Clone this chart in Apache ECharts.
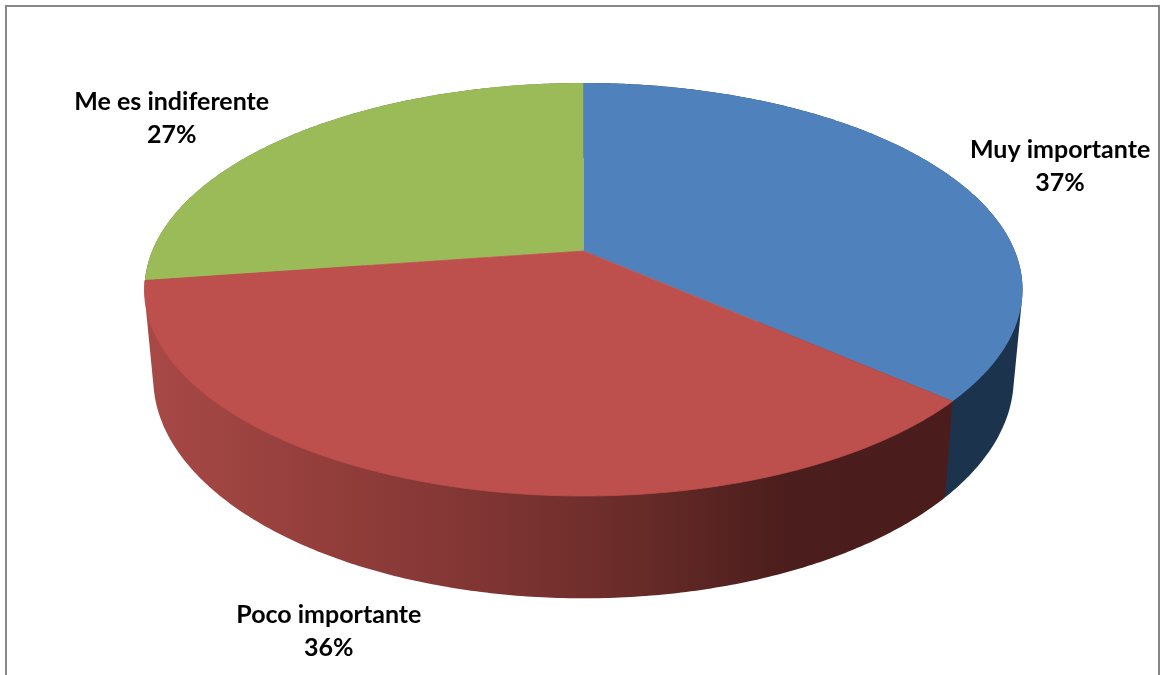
<!DOCTYPE html>
<html>
<head>
<meta charset="utf-8">
<style>html,body{margin:0;padding:0;background:#fff}#c{width:1161px;height:675px}</style>
<script src="https://cdn.jsdelivr.net/npm/echarts@6/dist/echarts.min.js"></script>
</head>
<body>
<div id="c"></div>
<script>
// data
const categories = ['Muy importante', 'Poco importante', 'Me es indiferente'];
const shares = [36.5, 36.2, 27.3];

// look
const topColors = ['#4F81BD', '#BD4F4C', '#9BBB59'];
const topEdgeWidths = [0, 0.8, 0];
const wallStops = [
  [[0, '#1D344E'], [1, '#1C334D']],
  [[0, '#A84946'], [0.2, '#953F3C'], [0.4, '#823634'], [0.6, '#6A2C29'], [0.72, '#562321'], [0.8, '#4B1D1C'], [1, '#4A1C1C']],
  [[0, '#5D7035'], [1, '#5D7035']]
];
const labelOffsets = [[111.5, -8.5], [-105, 148], [-121, -16.5]];

// projection of the pie disc (layout only)
const disc = { cx: 583.5, top: { y: 251, a: 431.3, b: 199.3 }, bottom: { y: 337, a: 422.7, b: 212.6 }, k: 0.1864 };

const total = shares.reduce((s, v) => s + v, 0);
const starts = [];
shares.reduce((acc, v, i) => { starts[i] = acc; return acc + v; }, 0);
const toAngle = v => v / total * 2 * Math.PI;

function project(theta, plane, r) {
  const u = Math.sin(theta) * r, v = -Math.cos(theta) * r;
  const w = 1 - disc.k * v;
  return [disc.cx + plane.a * u / w, plane.y + plane.b * v / w];
}
function arc(a0, a1, plane) {
  const n = Math.max(2, Math.ceil((a1 - a0) / 0.01));
  const pts = [];
  for (let i = 0; i <= n; i++) pts.push(project(a0 + (a1 - a0) * i / n, plane, 1));
  return pts;
}
function hull(points) {
  const p = points.slice().sort((a, b) => a[0] - b[0] || a[1] - b[1]);
  const cross = (o, a, b) => (a[0] - o[0]) * (b[1] - o[1]) - (a[1] - o[1]) * (b[0] - o[0]);
  const lo = [], up = [];
  for (const q of p) { while (lo.length > 1 && cross(lo[lo.length - 2], lo[lo.length - 1], q) <= 0) lo.pop(); lo.push(q); }
  for (const q of p.slice().reverse()) { while (up.length > 1 && cross(up[up.length - 2], up[up.length - 1], q) <= 0) up.pop(); up.push(q); }
  return lo.slice(0, -1).concat(up.slice(0, -1));
}
const span = i => [toAngle(starts[i]), toAngle(starts[i] + shares[i])];

function renderWall(params, api) {
  const i = api.value(0);
  const [a0, a1] = span(i);
  const pts = hull(arc(a0, a1, disc.top).concat(arc(a0, a1, disc.bottom)));
  const xs = pts.map(p => p[0]);
  const fill = new echarts.graphic.LinearGradient(
    Math.min(...xs), 0, Math.max(...xs), 0,
    wallStops[i].map(s => ({ offset: s[0], color: s[1] })), true);
  return { type: 'polygon', shape: { points: pts }, style: { fill } };
}
function renderTop(params, api) {
  const i = api.value(0);
  const [a0, a1] = span(i);
  const pts = [[disc.cx, disc.top.y]].concat(arc(a0, a1, disc.top));
  return {
    type: 'polygon', shape: { points: pts },
    style: { fill: topColors[i], stroke: topEdgeWidths[i] ? topColors[i] : null, lineWidth: topEdgeWidths[i] }
  };
}
function renderLabel(params, api) {
  const i = api.value(0);
  const [a0, a1] = span(i);
  const p = project((a0 + a1) / 2, disc.top, 1);
  return {
    type: 'text',
    x: p[0] + labelOffsets[i][0],
    y: p[1] + labelOffsets[i][1],
    style: {
      text: categories[i] + '\n' + Math.round(api.value(1)) + '%',
      fontFamily: 'Lato', fontWeight: 'bold', fontSize: 25, lineHeight: 33,
      fill: '#000', align: 'center', verticalAlign: 'middle'
    }
  };
}

const rows = shares.map((v, i) => [i, v]);
// walls are stacked so the front (red) wall lies over its neighbours
const wallOrder = [2, 0, 1];
const chart = echarts.init(document.getElementById('c'));
chart.setOption({
  animation: false,
  backgroundColor: '#fff',
  graphic: [{
    type: 'rect', silent: true, z: 0,
    shape: { x: 6, y: 6, width: 1153, height: 700 },
    style: { fill: 'none', stroke: '#868686', lineWidth: 2 }
  }],
  series: [
    { type: 'custom', coordinateSystem: 'none', silent: true, z: 2, clip: false, data: wallOrder.map(i => rows[i]), renderItem: renderWall },
    { type: 'custom', coordinateSystem: 'none', silent: true, z: 3, clip: false, data: [rows[2], rows[0], rows[1]], renderItem: renderTop },
    { type: 'custom', coordinateSystem: 'none', silent: true, z: 4, clip: false, data: rows, renderItem: renderLabel }
  ]
});
</script>
</body>
</html>
